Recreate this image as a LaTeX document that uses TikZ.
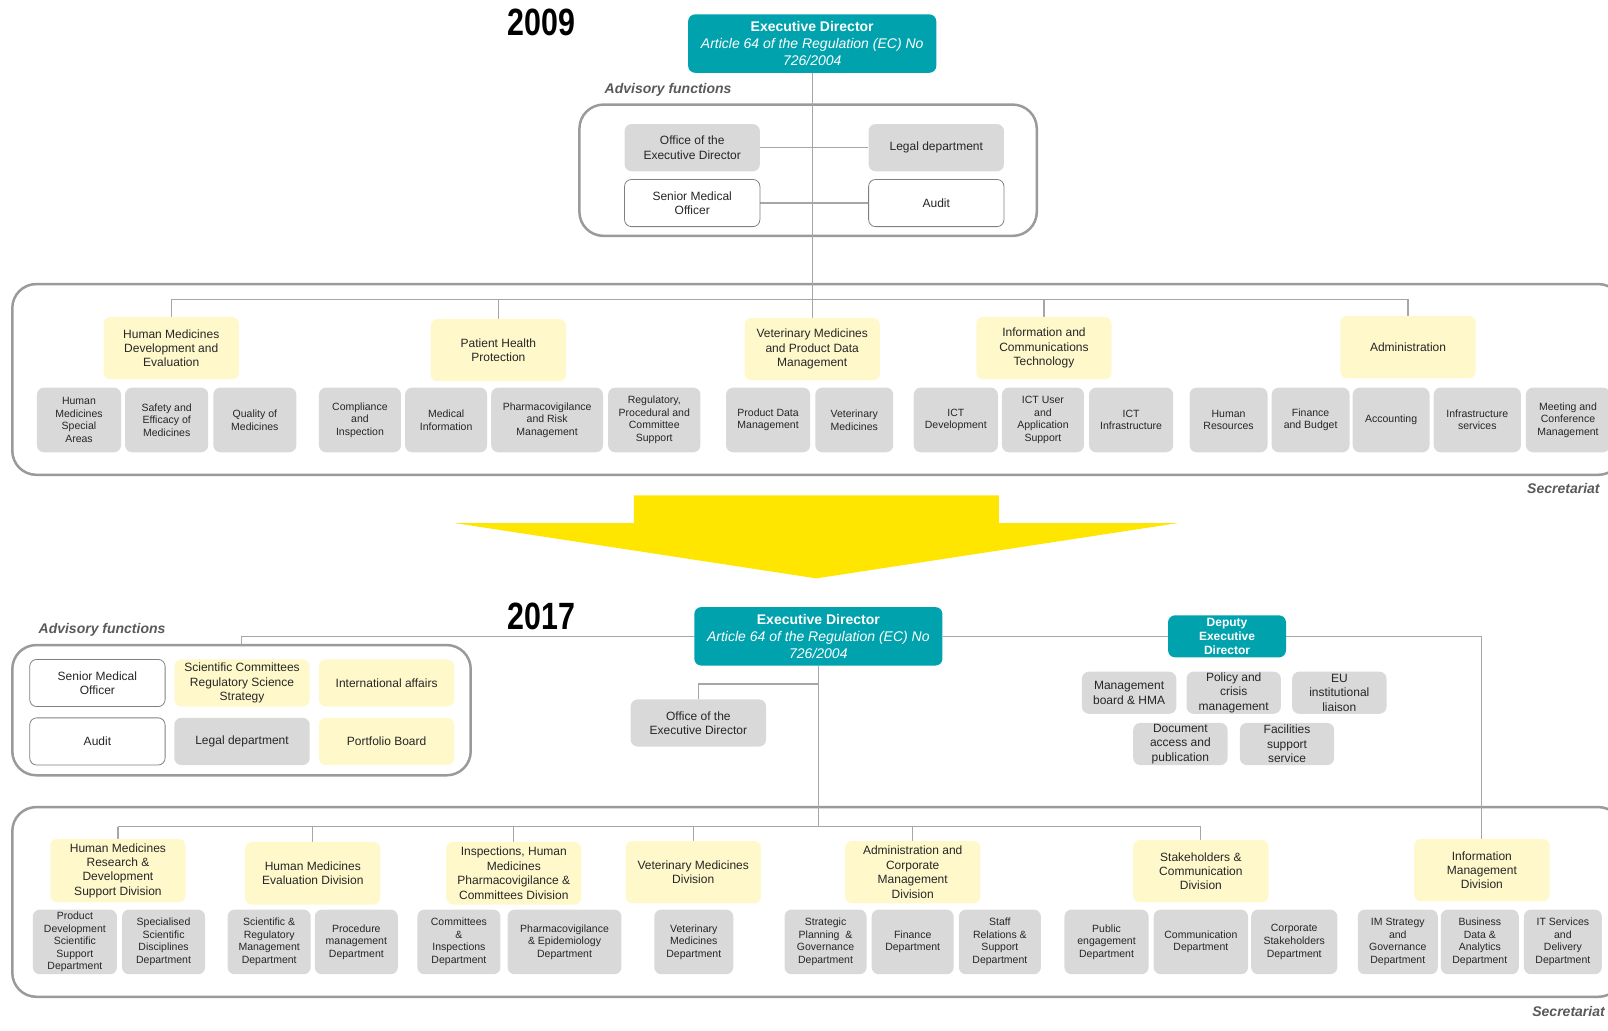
\documentclass[tikz,border=0pt]{standalone}
\usepackage{fontspec}
\usepackage{graphicx}
\setmainfont{Liberation Sans}
\definecolor{edteal}{HTML}{00A3AD}
\definecolor{boxgray}{HTML}{D9D9D9}
\definecolor{divyellow}{HTML}{FFF8CB}
\definecolor{framegray}{HTML}{9A9A9A}
\definecolor{linegray}{HTML}{A6A6A6}
\definecolor{wbord}{HTML}{808080}
\definecolor{txt}{HTML}{262626}
\definecolor{capgray}{HTML}{595959}
\definecolor{arrowyellow}{HTML}{FFE600}
\pgfdeclarelayer{bg}
\pgfsetlayers{bg,main}
% box from corner (x1,y1) to (x2,y2): style, name, x1, y1, x2, y2, text
\newcommand{\orgbox}[7]{%
  \node[#1, minimum width={(#5-#3)*1.0255pt}, minimum height={(#6-#4)*1.0255pt}]
    (#2) at ({(#3+#5)/2},{(#4+#6)/2}) {#7};}
\begin{document}
\begin{tikzpicture}[x=1.0255pt, y=-1.0255pt,
  box/.style={rounded corners=7pt, align=center, inner sep=1pt, text=txt},
  unit/.style={box, fill=boxgray, font=\fontsize{10.5}{12.6}\selectfont},
  div/.style={box, fill=divyellow, font=\fontsize{12}{14.4}\selectfont},
  advg/.style={box, fill=boxgray, font=\fontsize{12}{14.4}\selectfont},
  advw/.style={box, fill=white, draw=wbord, line width=0.8pt, font=\fontsize{12}{14.4}\selectfont},
  advy/.style={box, fill=divyellow, font=\fontsize{12}{14.4}\selectfont},
  exec/.style={box, fill=edteal, text=white, font=\fontsize{14}{17}\selectfont},
  deputy/.style={box, fill=edteal, text=white, font=\bfseries\fontsize{12}{14.4}\selectfont},
  conn/.style={draw=linegray, line width=1.2pt},
  frame/.style={draw=framegray, line width=2.5pt, rounded corners=24pt},
  yearlabel/.style={font=\bfseries\fontsize{38}{40}\selectfont, text=black, inner sep=0pt},
  caption/.style={font=\bfseries\itshape\fontsize{14}{16}\selectfont, text=capgray, inner sep=0pt}
]
\path[use as bounding box] (0,0) rectangle (1568,1005);
\clip (0,0) rectangle (1568,1005);

% ---------------- 2009 ----------------
\node[yearlabel] (y09) at (528,22) {\scalebox{0.8}[1]{2009}};
\orgbox{exec}{ed09}{671}{14}{913}{71}{\textbf{Executive Director}\\\textit{Article 64 of the Regulation (EC) No}\\\textit{726/2004}}
\node[caption] (advcap09) at (651.5,88) {Advisory functions};

\orgbox{advg}{off09}{609}{121}{741}{167}{Office of the\\Executive Director}
\orgbox{advg}{leg09}{847}{121}{979}{167}{Legal department}
\orgbox{advw}{smo09}{609}{175}{741}{221}{Senior Medical\\Officer}
\orgbox{advw}{aud09}{847}{175}{979}{221}{Audit}

\orgbox{div}{d1}{101}{309}{233}{370}{Human Medicines\\Development and\\Evaluation}
\orgbox{div}{d2}{420}{311}{552}{372}{Patient Health\\Protection}
\orgbox{div}{d3}{726}{310}{858}{371}{Veterinary Medicines\\and Product Data\\Management}
\orgbox{div}{d4}{952}{309}{1084}{370}{Information and\\Communications\\Technology}
\orgbox{div}{d5}{1307}{308}{1439}{369}{Administration}

\orgbox{unit}{u1}{36}{378}{118}{441}{Human\\Medicines\\Special\\Areas}
\orgbox{unit}{u2}{122}{378}{203}{441}{Safety and\\Efficacy of\\Medicines}
\orgbox{unit}{u3}{208}{378}{289}{441}{Quality of\\Medicines}
\orgbox{unit}{u4}{311}{378}{391}{441}{Compliance\\and\\Inspection}
\orgbox{unit}{u5}{395}{378}{475}{441}{Medical\\Information}
\orgbox{unit}{u6}{479}{378}{588}{441}{Pharmacovigilance\\and Risk\\Management}
\orgbox{unit}{u7}{593}{378}{683}{441}{Regulatory,\\Procedural and\\Committee\\Support}
\orgbox{unit}{u8}{708}{378}{790}{441}{Product Data\\Management}
\orgbox{unit}{u9}{795}{378}{871}{441}{Veterinary\\Medicines}
\orgbox{unit}{u10}{891}{378}{973}{441}{ICT\\Development}
\orgbox{unit}{u11}{977}{378}{1057}{441}{ICT User\\and\\Application\\Support}
\orgbox{unit}{u12}{1062}{378}{1144}{441}{ICT\\Infrastructure}
\orgbox{unit}{u13}{1160}{378}{1236}{441}{Human\\Resources}
\orgbox{unit}{u14}{1240}{378}{1316}{441}{Finance\\and Budget}
\orgbox{unit}{u15}{1319}{378}{1394}{441}{Accounting}
\orgbox{unit}{u16}{1398}{378}{1483}{441}{Infrastructure\\services}
\orgbox{unit}{u17}{1488}{378}{1570}{441}{Meeting and\\Conference\\Management}
\node[caption, anchor=east] (seccap09) at (1560,476) {Secretariat};

% transition arrow
\fill[arrowyellow] (618,483) -- (974,483) -- (974,510) -- (1149,510)
  -- (796,564) -- (443,510) -- (618,510) -- cycle;

% ---------------- 2017 ----------------
\node[yearlabel] (y17) at (528,601) {\scalebox{0.8}[1]{2017}};
\node[caption] (advcap17) at (99.5,614) {Advisory functions};
\orgbox{exec}{ed17}{677}{592}{919}{649}{\textbf{Executive Director}\\\textit{Article 64 of the Regulation (EC) No}\\\textit{726/2004}}
\orgbox{advg}{off17}{615}{682}{747}{728}{Office of the\\Executive Director}
\orgbox{deputy}{dep}{1139}{600}{1254}{641}{Deputy\\Executive\\Director}

\orgbox{advw}{smo17}{29}{643}{161}{689}{Senior Medical\\Officer}
\orgbox{advy}{sci}{170}{643}{302}{689}{Scientific Committees\\Regulatory Science\\Strategy}
\orgbox{advy}{intl}{311}{643}{443}{689}{International affairs}
\orgbox{advw}{aud17}{29}{700}{161}{746}{Audit}
\orgbox{advg}{leg17}{170}{700}{302}{746}{Legal department}
\orgbox{advy}{port}{311}{700}{443}{746}{Portfolio Board}

\orgbox{advg}{mb}{1055}{655}{1147}{696}{Management\\board \& HMA}
\orgbox{advg}{pol}{1157}{655}{1249}{696}{Policy and\\crisis\\management}
\orgbox{advg}{eu}{1260}{655}{1352}{696}{EU\\institutional\\liaison}
\orgbox{advg}{doc}{1105}{705}{1197}{746}{Document\\access and\\publication}
\orgbox{advg}{fac}{1209}{705}{1301}{746}{Facilities\\support\\service}

\orgbox{div}{e1}{49}{818}{181}{880}{Human Medicines\\Research \&\\Development\\Support Division}
\orgbox{div}{e2}{239}{821}{371}{882}{Human Medicines\\Evaluation Division}
\orgbox{div}{e3}{435}{821}{567}{882}{Inspections, Human\\Medicines\\Pharmacovigilance \&\\Committees Division}
\orgbox{div}{e4}{610}{820}{742}{881}{Veterinary Medicines\\Division}
\orgbox{div}{e5}{824}{820}{956}{881}{Administration and\\Corporate\\Management\\Division}
\orgbox{div}{e6}{1105}{819}{1237}{880}{Stakeholders \&\\Communication\\Division}
\orgbox{div}{e7}{1379}{818}{1511}{879}{Information\\Management\\Division}

\orgbox{unit}{f1}{32}{887}{114}{950}{Product\\Development\\Scientific\\Support\\Department}
\orgbox{unit}{f2}{119}{887}{200}{950}{Specialised\\Scientific\\Disciplines\\Department}
\orgbox{unit}{f3}{222}{887}{303}{950}{Scientific \&\\Regulatory\\Management\\Department}
\orgbox{unit}{f4}{307}{887}{388}{950}{Procedure\\management\\Department}
\orgbox{unit}{f5}{407}{887}{488}{950}{Committees\\\&\\Inspections\\Department}
\orgbox{unit}{f6}{495}{887}{606}{950}{Pharmacovigilance\\\& Epidemiology\\Department}
\orgbox{unit}{f7}{638}{887}{715}{950}{Veterinary\\Medicines\\Department}
\orgbox{unit}{f8}{765}{887}{845}{950}{Strategic\\Planning~ \&\\Governance\\Department}
\orgbox{unit}{f9}{850}{887}{930}{950}{Finance\\Department}
\orgbox{unit}{f10}{935}{887}{1015}{950}{Staff\\Relations \&\\Support\\Department}
\orgbox{unit}{f11}{1038}{887}{1120}{950}{Public\\engagement\\Department}
\orgbox{unit}{f12}{1125}{887}{1217}{950}{Communication\\Department}
\orgbox{unit}{f13}{1220}{887}{1304}{950}{Corporate\\Stakeholders\\Department}
\orgbox{unit}{f14}{1324}{887}{1402}{950}{IM Strategy\\and\\Governance\\Department}
\orgbox{unit}{f15}{1405}{887}{1481}{950}{Business\\Data \&\\Analytics\\Department}
\orgbox{unit}{f16}{1486}{887}{1562}{950}{IT Services\\and\\Delivery\\Department}
\node[caption, anchor=east] (seccap17) at (1565,986) {Secretariat};

% ---------------- frames and connectors ----------------
\begin{pgfonlayer}{bg}
  % 2009
  \draw[frame] (565,102) rectangle (1011,230);
  \draw[frame] (12,277) rectangle (1582,463);
  \coordinate (bus09) at (0,292);
  \draw[conn] (ed09.south) -- (ed09.south |- bus09);
  \draw[conn] (d1.north |- bus09) -- (d5.north |- bus09);
  \foreach \n in {d1,d2,d3,d4,d5}
    \draw[conn] (\n.north) -- (\n.north |- bus09);
  \draw[conn] (off09.east) -- (leg09.west);
  \draw[conn] (smo09.east) -- (aud09.west);
  % 2017
  \draw[frame] (12,629) rectangle (459,756);
  \draw[frame] (12,787) rectangle (1582,972);
  \coordinate (advtop) at (235.5,629);
  \coordinate (bus17) at (0,806);
  \coordinate (offbend) at (0,667);
  \draw[conn] (ed17.west) -| (advtop);
  \draw[conn] (ed17.east) -- (dep.west);
  \draw[conn] (dep.east) -| (e7.north);
  \draw[conn] (ed17.south) -- (ed17.south |- bus17);
  \draw[conn] (ed17.south |- offbend) -| (off17.north);
  \draw[conn] (e1.north |- bus17) -- (e6.north |- bus17);
  \foreach \n in {e1,e2,e3,e4,e5,e6}
    \draw[conn] (\n.north) -- (\n.north |- bus17);
\end{pgfonlayer}
\end{tikzpicture}
\end{document}
